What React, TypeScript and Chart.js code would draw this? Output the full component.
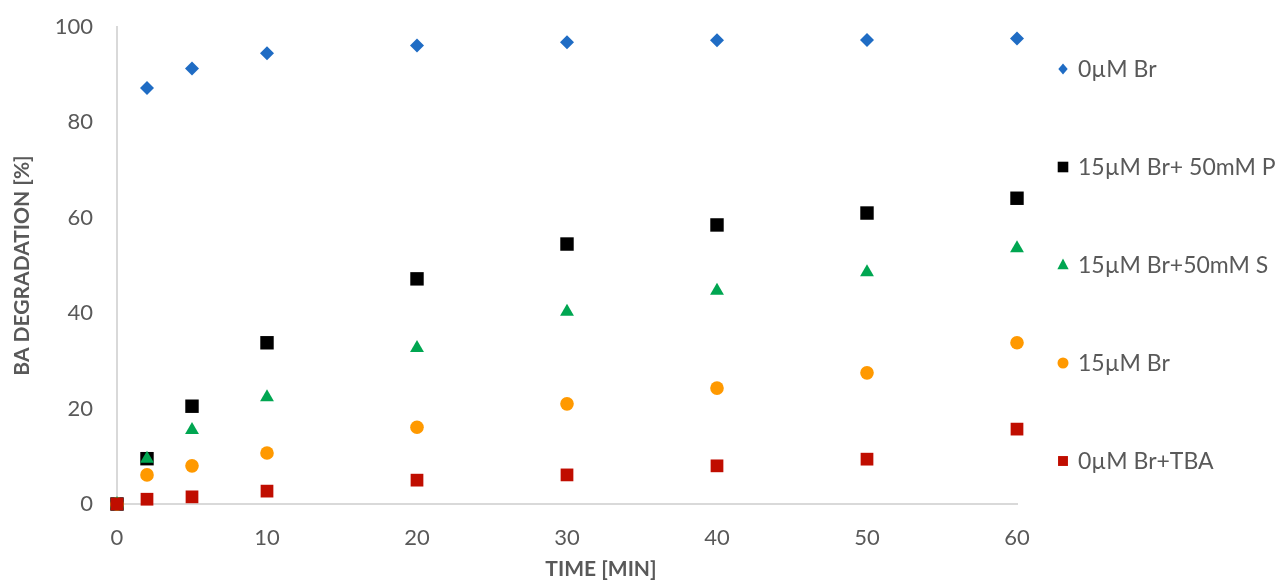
import React, { useEffect, useRef } from "react";
import { Chart, registerables } from "chart.js";

Chart.register(...registerables);

const times = [0, 2, 5, 10, 20, 30, 40, 50, 60];
const seriesLabels = ["0µM Br", "15µM Br+ 50mM P", "15µM Br+50mM S", "15µM Br", "0µM Br+TBA"];
const br0 = [0, 87.2, 91.3, 94.5, 96.1, 96.8, 97.2, 97.3, 97.6];
const brP = [0, 9.5, 20.5, 33.8, 47.2, 54.5, 58.5, 61.0, 64.1];
const brS = [0, 9.5, 15.5, 22.4, 32.7, 40.3, 44.7, 48.6, 53.6];
const br15 = [0, 6.1, 8.0, 10.7, 16.1, 21.0, 24.3, 27.5, 33.8];
const brTBA = [0, 1.0, 1.5, 2.7, 5.0, 6.1, 8.0, 9.4, 15.7];
const yTicks = [0, 20, 40, 60, 80, 100];
const xTicks = [0, 10, 20, 30, 40, 50, 60];
const xTitle = "TIME [MIN]";
const yTitle = "BA DEGRADATION [%]";

const colors = ["#1f6cc4", "#000000", "#00a651", "#ff9900", "#c00d00"];
const styles = ["rectRot", "rect", "triangle", "circle", "rect"];
const radii = [7, 9.5, 8, 6.8, 9];
const orders = [4, 3, 1, 2, 0];
const legendRadii = [5.5, 7.5, 6.5, 5.5, 7];
const allValues = [br0, brP, brS, br15, brTBA];

const FONT = "Lato, 'Open Sans', sans-serif";
const TEXT = "#595959";

const legendPlugin = {
  id: "sideLegend",
  afterDraw(chart: any) {
    const ctx = chart.ctx;
    const area = chart.chartArea;
    const top = 69;
    const step = 98;
    ctx.save();
    chart.data.datasets.forEach((ds: any, i: number) => {
      const y = top + i * step;
      const x = area.right + 46;
      const r = legendRadii[i];
      ctx.fillStyle = ds.backgroundColor;
      ctx.beginPath();
      const st = styles[i];
      if (st === "circle") {
        ctx.arc(x, y, r, 0, Math.PI * 2);
      } else if (st === "rect") {
        const s = r * Math.SQRT1_2;
        ctx.rect(x - s, y - s, 2 * s, 2 * s);
      } else if (st === "triangle") {
        ctx.moveTo(x, y - r);
        ctx.lineTo(x + r * 0.866, y + r * 0.5 + 1);
        ctx.lineTo(x - r * 0.866, y + r * 0.5 + 1);
        ctx.closePath();
      } else {
        ctx.moveTo(x, y - r);
        ctx.lineTo(x + r * 0.85, y);
        ctx.lineTo(x, y + r);
        ctx.lineTo(x - r * 0.85, y);
        ctx.closePath();
      }
      ctx.fill();
      ctx.fillStyle = TEXT;
      ctx.font = `23px ${FONT}`;
      ctx.textBaseline = "middle";
      ctx.textAlign = "left";
      ctx.fillText(ds.label, x + 15, y + 1);
    });
    // x-axis title (offset to the right as in the reference)
    ctx.fillStyle = TEXT;
    ctx.font = `bold 21px ${FONT}`;
    ctx.textAlign = "center";
    ctx.textBaseline = "middle";
    ctx.fillText(xTitle, 601, 569);
    ctx.restore();
  },
};

export default function App() {
  const ref = useRef<HTMLCanvasElement | null>(null);
  useEffect(() => {
    if (!ref.current) return;
    const chart = new Chart(ref.current, {
      type: "scatter",
      data: {
        datasets: seriesLabels.map((label, i) => ({
          label,
          data: times.map((t, j) => ({ x: t, y: allValues[i][j] })),
          backgroundColor: colors[i],
          borderColor: colors[i],
          borderWidth: 0,
          pointStyle: styles[i] as any,
          pointRadius: radii[i],
          pointHoverRadius: radii[i],
          order: orders[i],
          clip: false as any,
        })),
      },
      options: {
        animation: false,
        responsive: false,
        maintainAspectRatio: false,
        layout: { padding: { top: 27, right: 261, left: 0, bottom: 0 } },
        plugins: { legend: { display: false }, tooltip: { enabled: false } },
        scales: {
          x: {
            type: "linear",
            min: 0,
            max: 60,
            afterFit: (s: any) => {
              s.height = 78;
              s.paddingLeft = 0;
              s.paddingRight = 0;
            },
            afterBuildTicks: (s: any) => { s.ticks = xTicks.map((v) => ({ value: v })); },
            grid: { display: false, drawTicks: false },
            border: { display: true, color: "#d9d9d9", width: 2 },
            ticks: { color: TEXT, font: { family: FONT, size: 22 }, padding: 21 },
            title: { display: false, text: xTitle },
          },
          y: {
            type: "linear",
            min: 0,
            max: 100,
            afterFit: (s: any) => {
              s.width = 117;
              s.paddingTop = 0;
              s.paddingBottom = 0;
            },
            afterBuildTicks: (s: any) => { s.ticks = yTicks.map((v) => ({ value: v })); },
            grid: { display: false, drawTicks: false },
            border: { display: true, color: "#d9d9d9", width: 2 },
            ticks: { color: TEXT, font: { family: FONT, size: 22 }, padding: 24 },
            title: {
              display: true,
              text: yTitle,
              color: TEXT,
              font: { family: FONT, size: 21, weight: "bold" },
              padding: { top: 10, bottom: 0 },
            },
          },
        },
      },
      plugins: [legendPlugin],
    });
    return () => chart.destroy();
  }, []);
  return (
    <div style={{ position: "absolute", left: 0, top: 0, width: 1278, height: 582, background: "#fff" }}>
      <canvas ref={ref} width={1278} height={582} style={{ width: 1278, height: 582 }} />
    </div>
  );
}
